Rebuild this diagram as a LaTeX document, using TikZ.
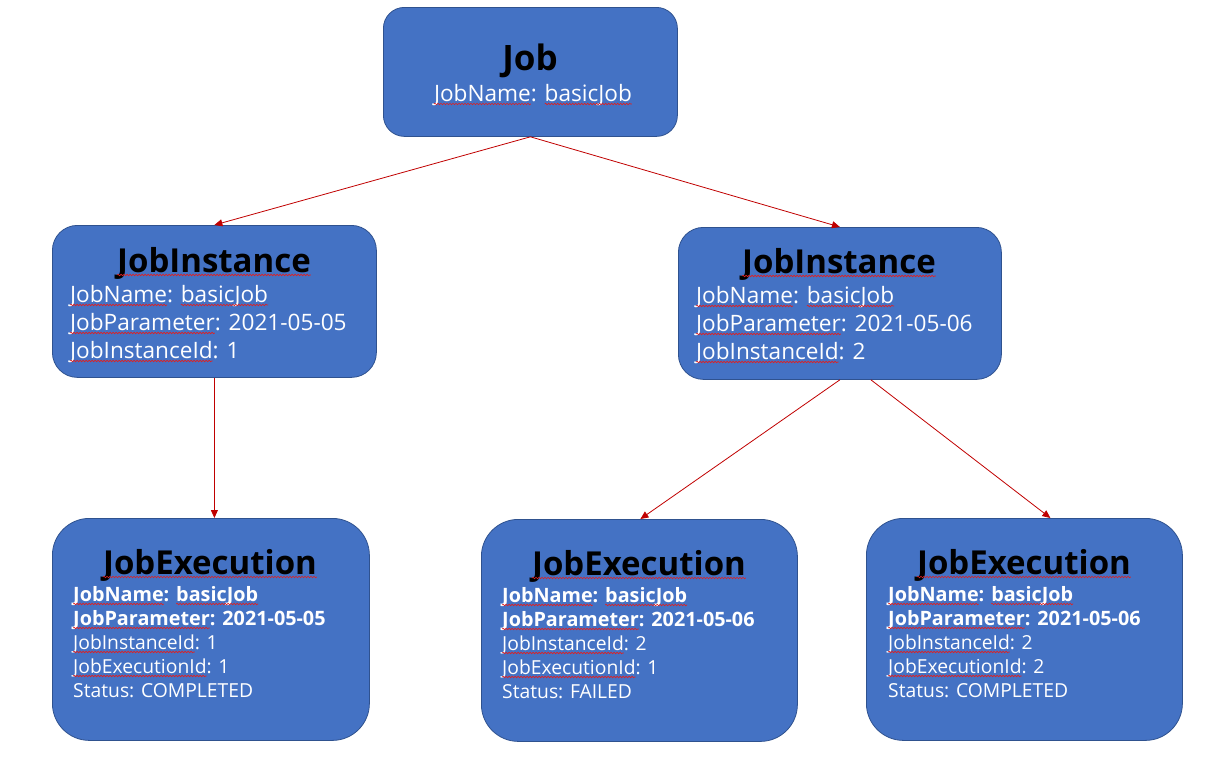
\documentclass[tikz,border=0pt]{standalone}
\usepackage{fontspec}
\setmainfont{Open Sans}
\usetikzlibrary{arrows.meta,calc,decorations.pathmorphing}
\definecolor{boxfill}{HTML}{4472C4}
\definecolor{boxline}{HTML}{2F528F}
\definecolor{arrowred}{HTML}{C00000}
\definecolor{waveRed}{HTML}{E02020}
\newcommand\rw[1]{\tikz[baseline=(w.base),x=1pt,y=1pt]{\node[inner sep=0pt,outer sep=0pt,anchor=base] (w) {#1};
  \draw[overlay,draw=waveRed,line width=0.6pt,decorate,decoration={snake,amplitude=0.8pt,segment length=3pt}] ($(w.base west)+(0,-3)$) -- ($(w.base east)+(0,-3)$);}}
\begin{document}
\begin{tikzpicture}[x=1pt,y=-1pt,
  box/.style={draw=boxline, fill=boxfill, line width=0.8pt, rounded corners=#1, anchor=north west, inner sep=0pt},
  ttl/.style={font=\fontsize{33}{33}\selectfont\bfseries, text=black, anchor=base, inner sep=0pt},
  ibody/.style={font=\fontsize{22.6}{22.6}\selectfont, text=white, anchor=base west, inner sep=0pt},
  ebody/.style={font=\fontsize{19.3}{19.3}\selectfont, text=white, anchor=base west, inner sep=0pt},
  ebold/.style={ebody, font=\fontsize{19.8}{19.8}\selectfont\bfseries},
  conn/.style={draw=arrowred, line width=0.8pt, -{Triangle[width=7pt,length=8pt]}}]
\useasboundingbox (0,0) rectangle (1216,756);
% boxes
\node[box=21pt, minimum width=294pt, minimum height=129pt] (job) at (383,7) {};
\node[box=25pt, minimum width=324pt, minimum height=152pt] (ji1) at (52,225) {};
\node[box=25pt, minimum width=323pt, minimum height=152pt] (ji2) at (678,227) {};
\node[box=37pt, minimum width=317pt, minimum height=222pt] (je1) at (52,518) {};
\node[box=37pt, minimum width=316pt, minimum height=222pt] (je2) at (481,519) {};
\node[box=37pt, minimum width=316pt, minimum height=222pt] (je3) at (866,518) {};
% job text
\node[ttl, font=\fontsize{35}{35}\selectfont\bfseries] (jobt) at (530,70) {Job};
\node[ibody, anchor=base] (jobl1) at (533,101) {\rw{JobName}: \rw{basicJob}};
% job instance 1
\node[ttl] (ji1t) at (214,272) {\rw{JobInstance}};
\node[ibody] (ji1a) at (70,302) {\rw{JobName}: \rw{basicJob}};
\node[ibody] (ji1b) at (70,330) {\rw{JobParameter}: 2021-05-05};
\node[ibody] (ji1c) at (70,358) {\rw{JobInstanceId}: 1};
% job instance 2
\node[ttl] (ji2t) at (839,273) {\rw{JobInstance}};
\node[ibody] (ji2a) at (696,303) {\rw{JobName}: \rw{basicJob}};
\node[ibody] (ji2b) at (696,331) {\rw{JobParameter}: 2021-05-06};
\node[ibody] (ji2c) at (696,359) {\rw{JobInstanceId}: 2};
% job execution 1
\node[ttl] (je1t) at (210,574) {\rw{JobExecution}};
\node[ebold] (je1a) at (73,601) {\rw{JobName}: \rw{basicJob}};
\node[ebold] (je1b) at (73,625) {\rw{JobParameter}: 2021-05-05};
\node[ebody] (je1c) at (73,649) {\rw{JobInstanceId}: 1};
\node[ebody] (je1d) at (73,673) {\rw{JobExecutionId}: 1};
\node[ebody] (je1e) at (73,697) {Status: COMPLETED};
% job execution 2
\node[ttl] (je2t) at (639,575) {\rw{JobExecution}};
\node[ebold] (je2a) at (502,602) {\rw{JobName}: \rw{basicJob}};
\node[ebold] (je2b) at (502,626) {\rw{JobParameter}: 2021-05-06};
\node[ebody] (je2c) at (502,650) {\rw{JobInstanceId}: 2};
\node[ebody] (je2d) at (502,674) {\rw{JobExecutionId}: 1};
\node[ebody] (je2e) at (502,698) {Status: FAILED};
% job execution 3
\node[ttl] (je3t) at (1024,574) {\rw{JobExecution}};
\node[ebold] (je3a) at (888,601) {\rw{JobName}: \rw{basicJob}};
\node[ebold] (je3b) at (888,625) {\rw{JobParameter}: 2021-05-06};
\node[ebody] (je3c) at (888,649) {\rw{JobInstanceId}: 2};
\node[ebody] (je3d) at (888,673) {\rw{JobExecutionId}: 2};
\node[ebody] (je3e) at (888,697) {Status: COMPLETED};
% connectors
\draw[conn] (job.south) -- (ji1.north);
\draw[conn] (job.south) -- (ji2.north);
\draw[conn] (ji1.south) -- (ji1.south |- je1.north);
\draw[conn] (ji2.south) -- ($(je2.north)+(1,0)$);
\draw[conn] ($(ji2.south)+(31,0)$) -- ($(je3.north)+(26,0)$);
\end{tikzpicture}
\end{document}
